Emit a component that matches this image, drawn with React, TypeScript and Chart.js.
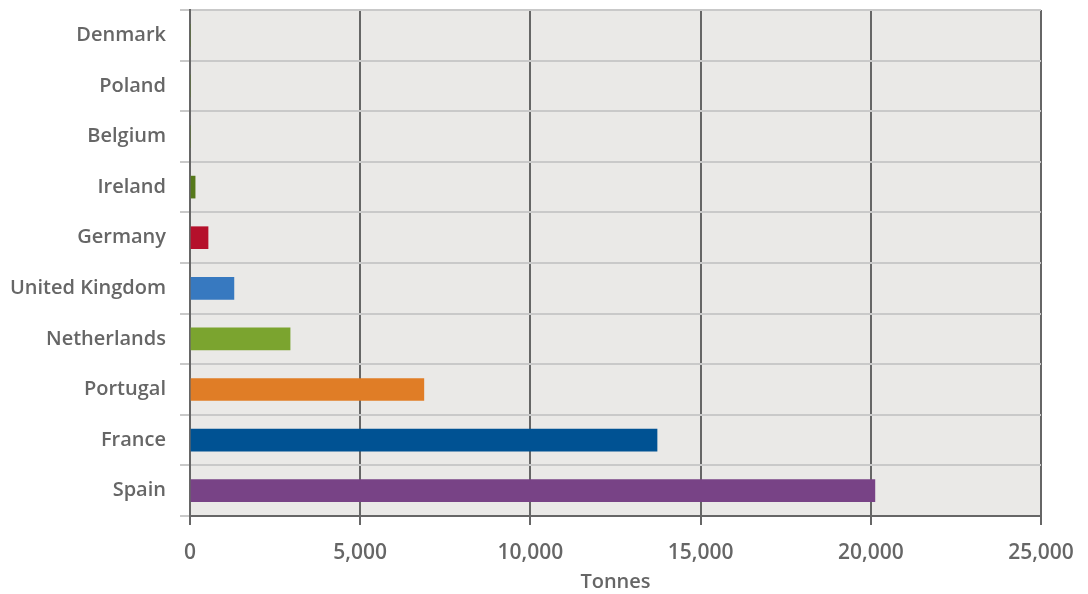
import React, { useEffect, useRef } from "react";
import { Chart, registerables } from "chart.js";

Chart.register(...registerables);

const countries = ["Denmark", "Poland", "Belgium", "Ireland", "Germany", "United Kingdom", "Netherlands", "Portugal", "France", "Spain"];
const tonnes = [0, 0, 0, 150, 530, 1290, 2940, 6870, 13720, 20120];
const barColors = ["#56791b", "#56791b", "#56791b", "#56791b", "#b5102b", "#3779c0", "#7ba42f", "#e07d26", "#005293", "#784386"];
const xTicks = [0, 5000, 10000, 15000, 20000, 25000];
const xTitle = "Tonnes";

const FONT = "'Open Sans', 'DejaVu Sans', sans-serif";
const TEXT = "#666666";

const plotBg = {
  id: "plotBg",
  beforeDraw(chart: any) {
    const { ctx, chartArea } = chart;
    ctx.save();
    ctx.fillStyle = "#eae9e7";
    ctx.fillRect(chartArea.left, chartArea.top, chartArea.right - chartArea.left, chartArea.bottom - chartArea.top);
    ctx.restore();
  },
};

export default function App() {
  const ref = useRef<HTMLCanvasElement>(null);
  useEffect(() => {
    const chart = new Chart(ref.current!, {
      type: "bar",
      data: {
        labels: countries,
        datasets: [
          {
            data: tonnes,
            backgroundColor: barColors,
            barThickness: 22,
            borderWidth: 0,
          },
        ],
      },
      plugins: [plotBg],
      options: {
        indexAxis: "y",
        animation: false,
        responsive: false,
        maintainAspectRatio: false,
        layout: { padding: { left: 0, right: 47, top: 10, bottom: 0 } },
        plugins: { legend: { display: false }, tooltip: { enabled: false } },
        scales: {
          x: {
            min: 0,
            max: 25000,
            afterBuildTicks: (scale: any) => {
              scale.ticks = xTicks.map((v) => ({ value: v }));
            },
            afterFit: (scale: any) => {
              scale.height = 78;
              scale.paddingLeft = 0;
              scale.paddingRight = 0;
            },
            grid: { color: "#666666", lineWidth: 2, tickLength: 9, drawTicks: true },
            border: { color: "#666666", width: 2 },
            ticks: {
              color: TEXT,
              padding: 15,
              font: { family: FONT, size: 21, weight: 600 },
              callback: (v: any) => Number(v).toLocaleString("en-US"),
            },
            title: {
              display: true,
              text: xTitle,
              color: TEXT,
              padding: { top: 0, bottom: 0 },
              font: { family: FONT, size: 20, weight: 600 },
            },
          },
          y: {
            afterFit: (scale: any) => {
              scale.width = 190;
              scale.paddingTop = 0;
              scale.paddingBottom = 0;
            },
            grid: { color: "#c9c9c9", lineWidth: 2, offset: true, tickLength: 10 },
            border: { color: "#666666", width: 2 },
            ticks: {
              color: TEXT,
              padding: 14,
              font: { family: FONT, size: 20, weight: 600 },
            },
          },
        },
      },
    });
    return () => chart.destroy();
  }, []);
  return (
    <div style={{ position: "fixed", left: 0, top: 0, width: 1088, height: 594, background: "#fff" }}>
      <canvas ref={ref} width={1088} height={594} />
    </div>
  );
}
